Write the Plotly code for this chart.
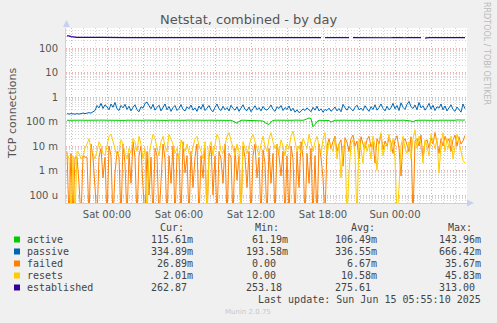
import plotly.graph_objects as go
import pandas as pd

# ---------------- data ----------------
start_time = "2025-06-13 20:40"
n_points = 200
step = "10min"

passive = [
    0.21,0.20,0.21,0.20,0.20,0.21,0.20,0.21,0.22,0.21,
    0.22,0.23,0.22,0.24,0.28,0.45,0.36,0.55,0.34,0.48,
    0.40,0.30,0.52,0.38,0.60,0.33,0.28,0.45,0.36,0.50,
    0.31,0.42,0.27,0.38,0.48,0.30,0.25,0.40,0.35,0.55,
    0.62,0.44,0.33,0.50,0.29,0.38,0.46,0.27,0.36,0.52,
    0.30,0.41,0.26,0.37,0.45,0.28,0.34,0.49,0.31,0.27,
    0.40,0.33,0.47,0.29,0.36,0.26,0.43,0.32,0.50,0.28,
    0.35,0.45,0.30,0.25,0.38,0.52,0.33,0.28,0.42,0.30,
    0.37,0.27,0.46,0.34,0.29,0.40,0.26,0.35,0.48,0.31,
    0.28,0.39,0.25,0.33,0.44,0.30,0.37,0.27,0.41,0.32,
    0.29,0.36,0.47,0.31,0.26,0.40,0.34,0.45,0.28,0.37,
    0.31,0.43,0.27,0.35,0.24,0.30,0.23,0.26,0.33,0.28,
    0.36,0.30,0.25,0.38,0.29,0.42,0.27,0.33,0.24,0.31,
    0.28,0.35,0.26,0.31,0.39,0.27,0.34,0.25,0.50,0.36,
    0.29,0.41,0.32,0.27,0.38,0.46,0.30,0.35,0.28,0.44,
    0.33,0.26,0.40,0.31,0.48,0.29,0.37,0.52,0.34,0.27,
    0.42,0.30,0.36,0.55,0.33,0.45,0.28,0.58,0.38,0.31,
    0.50,0.66,0.40,0.34,0.47,0.30,0.60,0.36,0.44,0.29,
    0.38,0.55,0.32,0.46,0.28,0.40,0.35,0.52,0.30,0.43,
    0.27,0.36,0.48,0.31,0.26,0.39,0.30,0.24,0.52,0.33,
]

active = [
    0.112,0.113,0.112,0.114,0.113,0.112,0.113,0.114,0.113,0.112,
    0.113,0.112,0.114,0.113,0.112,0.111,0.113,0.112,0.114,0.113,
    0.112,0.113,0.111,0.112,0.114,0.113,0.112,0.113,0.112,0.111,
    0.113,0.112,0.114,0.112,0.113,0.111,0.112,0.113,0.112,0.114,
    0.113,0.112,0.111,0.113,0.112,0.114,0.113,0.112,0.113,0.112,
    0.111,0.113,0.112,0.114,0.112,0.113,0.112,0.111,0.113,0.112,
    0.114,0.113,0.112,0.113,0.111,0.112,0.113,0.112,0.114,0.113,
    0.112,0.113,0.112,0.111,0.113,0.112,0.114,0.113,0.112,0.113,
    0.112,0.111,0.113,0.105,0.095,0.085,0.100,0.112,0.113,0.112,
    0.114,0.113,0.112,0.111,0.113,0.112,0.113,0.112,0.105,0.090,
    0.080,0.075,0.095,0.110,0.113,0.112,0.114,0.113,0.112,0.113,
    0.112,0.111,0.113,0.112,0.114,0.113,0.112,0.113,0.112,0.118,
    0.125,0.140,0.130,0.061,0.075,0.100,0.112,0.113,0.112,0.111,
    0.113,0.110,0.095,0.108,0.113,0.112,0.114,0.113,0.112,0.113,
    0.112,0.111,0.113,0.112,0.114,0.113,0.112,0.113,0.112,0.111,
    0.113,0.112,0.114,0.113,0.112,0.113,0.112,0.111,0.113,0.112,
    0.114,0.113,0.112,0.113,0.111,0.112,0.113,0.112,0.114,0.113,
    0.112,0.113,0.105,0.095,0.108,0.112,0.114,0.113,0.112,0.113,
    0.112,0.111,0.113,0.112,0.114,0.113,0.112,0.113,0.112,0.111,
    0.113,0.112,0.114,0.113,0.112,0.116,0.113,0.112,0.114,0.1156,
]

established = [
    313,313,290,280,272,271,272,270,271,272,
    271,270,271,272,270,271,270,271,272,270,
    268,266,265,267,264,266,268,265,264,266,
    267,265,264,266,265,267,265,264,265,266,
    265,264,266,265,264,265,266,265,264,265,
    266,265,264,265,266,265,264,265,266,265,
    264,265,266,265,264,265,266,265,264,265,
    266,265,264,265,266,265,264,265,266,265,
    264,265,266,265,264,265,266,265,264,265,
    266,265,264,265,266,265,264,265,266,265,
    264,265,266,265,264,265,266,265,264,265,
    266,265,264,265,266,265,264,265,266,265,
    264,265,266,265,264,265,266,265,None,265,
    266,265,264,265,266,265,264,265,266,265,
    264,265,None,265,264,265,266,265,264,265,
    266,265,264,265,266,265,264,265,266,265,
    262,258,262,265,260,257,263,265,258,262,
    265,264,265,255,253,258,265,264,None,254,
    265,264,265,266,265,264,265,266,265,264,
    265,266,265,264,265,266,265,264,265,262.87,
]

# failed / resets in milli-connections per second (0 = no events)
failed_m = [
    6,0,5,0,3.5,3.5,0.3,0,4,3.5,
    3.5,0,12,3.5,0.2,0,3.5,8,0.5,3.5,
    0,10,4,0,0.8,6,3.5,0,12,2,
    0,5,0.3,15,3.5,0,4,10,0.2,0,
    6,0.1,3.5,0,8,4,0,0.5,12,3,
    0,4,0.3,10,0,5,3.5,0,15,0.8,
    4,0,6,0.2,3.5,12,0,4,0.5,8,
    0,3.5,10,0.1,4,0,6,3,0.3,12,
    0,5,3.5,0,8,0.4,4,0,10,3.5,
    0.2,6,0,4,12,0.5,3.5,0,7,2,
    0,8,0.3,5,0,12,4,0.6,6,0,
    4,0,10,3,0,6,0.2,15,3.5,0,
    5,0.3,8,0,4,0,12,3.5,0.5,0,
    10,20,8,15,25,6,12,18,1.5,22,
    14,6,20,28,10,16,3,24,12,8,
    18,25,9,15,2,20,12,30,7,16,
    10,22,14,5,18,26,8,0.6,15,20,
    12,6,24,0,16,20,10,28,3,14,
    18,8,22,12,35.67,15,5,20,10,25,
    14,20,6,18,28,10,24,12,16,26.89,
]

resets_m = [
    5,3,0,4,0,6,5,3,4,8,
    12,20,8,5,3,6,15,10,5,4,
    10,25,30,15,8,4,6,18,12,5,
    3,8,5,20,15,6,25,12,3,8,
    0,5,12,30,20,8,4,15,25,10,
    6,30,20,12,5,8,3,18,10,6,
    12,5,4,8,20,25,10,6,3,15,
    0,8,15,4,10,30,20,6,5,12,
    25,35,18,8,4,12,6,0,15,8,
    5,10,20,30,15,8,4,12,25,10,
    6,20,35,15,8,12,5,18,10,4,
    12,8,25,40,15,6,10,5,20,12,
    8,30,12,6,15,25,10,5,18,35,
    4,15,10,6,20,3,12,0.5,8,15,
    0,0.8,12,18,5,0,20,8,2,15,
    6,12,3,25,10,1,15,35,4,10,
    12,30,6,20,3,0,0.2,10,25,8,
    5,15,3,20,45.83,8,25,12,2,18,
    10,4,30,15,8,20,0.8,12,35,6,
    20,8,25,3,12,30,15,5,2.5,2.01,
]

series_names = ["active", "passive", "failed", "resets", "established"]
series_colors = ["#00CC00", "#0066B3", "#FF8000", "#FFCC00", "#330099"]
cur_vals = ["115.61m", "334.89m", "26.89m", "2.01m", "262.87\u00a0"]
min_vals = ["61.19m", "193.58m", "0.00\u00a0\u00a0", "0.00\u00a0\u00a0", "253.18\u00a0"]
avg_vals = ["106.49m", "336.55m", "6.67m", "10.58m", "275.61\u00a0"]
max_vals = ["143.96m", "666.42m", "35.67m", "45.83m", "313.00\u00a0"]

y_tick_vals = [1e-4, 1e-3, 1e-2, 1e-1, 1, 10, 100]
y_tick_text = ["100 u", "1 m", "10 m", "100 m", "1", "10", "100"]

x_major = pd.date_range("2025-06-13 21:00", "2025-06-15 03:00", freq="3h")
x_tick_text = [t.strftime("%a %H:%M") if t.hour % 6 == 0 else "" for t in x_major]

# ---------------- figure ----------------
times = pd.date_range(start_time, periods=n_points, freq=step)
FLOOR = 1e-5  # zero values are drawn down to the bottom edge as in rrdtool


def to_units(vals_m):
    return [v * 1e-3 if v > 0 else FLOOR for v in vals_m]


values = [active, passive, to_units(failed_m), to_units(resets_m), established]

fig = go.Figure()
for name, col, vals in zip(series_names, series_colors, values):
    fig.add_trace(go.Scatter(
        x=times, y=vals, mode="lines", name=name,
        line=dict(color=col, width=1.2 if name == "established" else 1),
        connectgaps=False, showlegend=False, hoverinfo="skip",
    ))

W, H = 497, 323
L, R, T, B = 66, 467, 28, 203


def px(x):
    return (x - L) / (R - L)


def py(y):
    return (B - y) / (B - T)


top_log = 2 + (48 - T) / 24.5
bot_log = -4 - (B - 195) / 24.5

minor_y = [m * 10 ** e for e in range(-5, 3) for m in range(2, 10)]

fig.update_layout(
    width=W, height=H,
    margin=dict(l=L, r=W - R, t=T, b=H - B, pad=0),
    paper_bgcolor="#F0F0F0", plot_bgcolor="#FFFFFF",
    font=dict(family="DejaVu Sans", size=10, color="#555555"),
    xaxis=dict(
        type="date",
        range=["2025-06-13 20:35", "2025-06-15 06:00"],
        tickmode="array", tickvals=x_major, ticktext=x_tick_text,
        showgrid=True, gridcolor="#F0A8A8", griddash="1px,2px", gridwidth=1,
        minor=dict(tickmode="linear", tick0="2025-06-13 21:00", dtick=3600000,
                   showgrid=True, gridcolor="#D4D4D4", griddash="1px,2px", ticklen=0),
        showline=True, linecolor="#C8D0EC", linewidth=1,
        ticks="", zeroline=False, tickfont=dict(size=10, color="#555555"),
        ticklabelstandoff=2,
    ),
    yaxis=dict(
        type="log", range=[bot_log, top_log],
        tickmode="array", tickvals=y_tick_vals, ticktext=y_tick_text,
        showgrid=True, gridcolor="#F0A8A8", griddash="1px,2px", gridwidth=1,
        minor=dict(tickmode="array", tickvals=minor_y, showgrid=True,
                   gridcolor="#D4D4D4", griddash="1px,2px", ticklen=0),
        showline=True, linecolor="#C8D0EC", linewidth=1,
        ticks="", zeroline=False, tickfont=dict(size=10, color="#555555"),
        ticklabelstandoff=5,
    ),
)

ann = []
# title
ann.append(dict(x=px(248), y=py(19), xref="paper", yref="paper", text="Netstat, combined - by day",
                showarrow=False, xanchor="center", yanchor="middle",
                font=dict(family="DejaVu Sans", size=13, color="#555555")))
# y axis title
ann.append(dict(x=px(12), y=py(114), xref="paper", yref="paper", text="TCP connections",
                showarrow=False, xanchor="center", yanchor="middle", textangle=-90,
                font=dict(family="DejaVu Sans", size=11, color="#555555")))
# side credit
ann.append(dict(x=px(487), y=py(53), xref="paper", yref="paper", text="RRDTOOL / TOBI OETIKER",
                showarrow=False, xanchor="center", yanchor="middle", textangle=90,
                font=dict(family="DejaVu Sans", size=8, color="#BBBBBB")))
# munin version
ann.append(dict(x=px(248), y=py(312), xref="paper", yref="paper", text="Munin 2.0.75",
                showarrow=False, xanchor="center", yanchor="middle",
                font=dict(family="DejaVu Sans", size=7, color="#C8C8C8")))

mono = dict(family="DejaVu Sans Mono", size=10, color="#444444")
for txt, xl in zip(["Cur:", "Min:", "Avg:", "Max:"], [158, 253, 349, 446]):
    ann.append(dict(x=px(xl), y=py(227), xref="paper", yref="paper", text=txt, showarrow=False,
                    xanchor="left", yanchor="middle", font=mono))

shapes = []
for k, name in enumerate(series_names):
    yc = 239.5 + 12 * k
    shapes.append(dict(type="rect", xref="paper", yref="paper",
                       x0=px(14), x1=px(20), y0=py(yc - 3), y1=py(yc + 3),
                       fillcolor=series_colors[k], line=dict(width=0)))
    ann.append(dict(x=px(25), y=py(yc), xref="paper", yref="paper", text=name, showarrow=False,
                    xanchor="left", yanchor="middle", font=mono))
    for vals, xr in zip([cur_vals, min_vals, avg_vals, max_vals], [195, 290, 379, 483]):
        ann.append(dict(x=px(xr), y=py(yc), xref="paper", yref="paper", text=vals[k],
                        showarrow=False, xanchor="right", yanchor="middle", font=mono))

ann.append(dict(x=px(483), y=py(299.5), xref="paper", yref="paper",
                text="Last update: Sun Jun 15 05:55:10 2025", showarrow=False,
                xanchor="right", yanchor="middle", font=mono))

# axis arrows
shapes.append(dict(type="path", xref="paper", yref="paper",
                   path=f"M {px(66.5)},{py(20)} L {px(63)},{py(27)} L {px(70)},{py(27)} Z",
                   fillcolor="#C8D0F0", line=dict(width=0)))
shapes.append(dict(type="path", xref="paper", yref="paper",
                   path=f"M {px(474)},{py(203)} L {px(467)},{py(199.5)} L {px(467)},{py(206.5)} Z",
                   fillcolor="#C8D0F0", line=dict(width=0)))

fig.update_layout(annotations=ann, shapes=shapes)
fig.write_html("out.html")
